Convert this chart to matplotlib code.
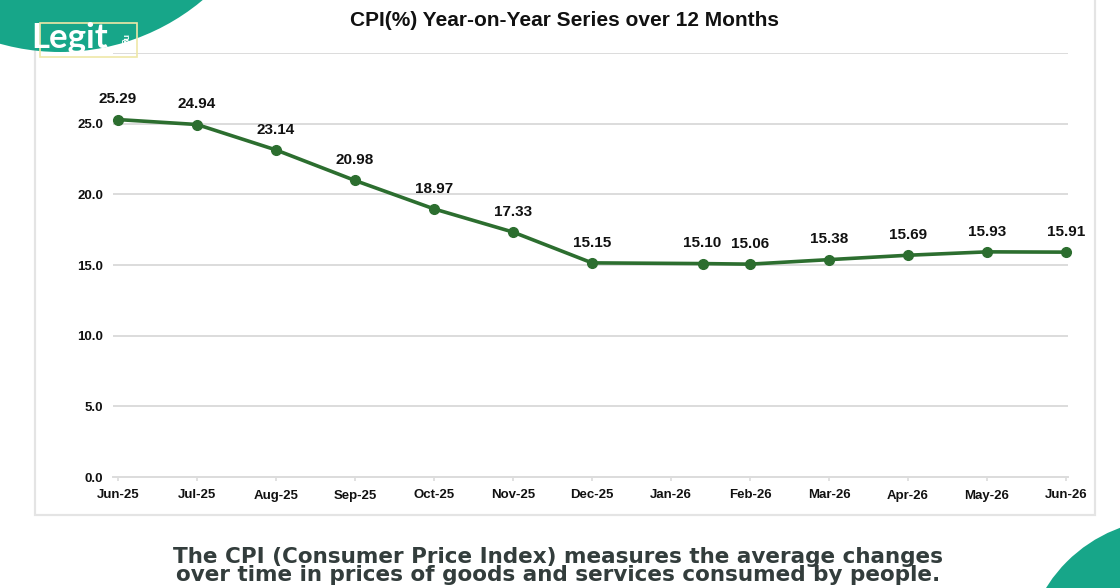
import matplotlib
matplotlib.use("Agg")
import matplotlib.pyplot as plt
from matplotlib.patches import Circle, Rectangle

# ---------------- data ----------------
months = ["Jun-25", "Jul-25", "Aug-25", "Sep-25", "Oct-25", "Nov-25", "Dec-25",
          "Jan-26", "Feb-26", "Mar-26", "Apr-26", "May-26", "Jun-26"]
# month position of each observation (Jan-26 point sits between Jan and Feb in the source)
obs_month = [0, 1, 2, 3, 4, 5, 6, 7.4, 8, 9, 10, 11, 12]
cpi_yoy = [25.29, 24.94, 23.14, 20.98, 18.97, 17.33, 15.15,
           15.10, 15.06, 15.38, 15.69, 15.93, 15.91]
y_ticks = [0, 5, 10, 15, 20, 25, 30]
y_labels = ["0.0", "5.0", "10.0", "15.0", "20.0", "25.0", ""]

title = "CPI(%) Year-on-Year Series over 12 Months"
caption = ("The CPI (Consumer Price Index) measures the average changes\n"
           "over time in prices of goods and services consumed by people.")

# ---------------- style ----------------
W, H = 1120, 588
GREEN = "#2c6e2f"
TEAL = "#17a689"
GRID = "#dcdcdc"
FONT = ["Liberation Sans", "DejaVu Sans"]

fig = plt.figure(figsize=(W / 100, H / 100), dpi=100)
fig.patch.set_facecolor("white")


def fx(px):
    return px / W


def fy(py):
    return 1 - py / H


# background overlay (pixel coordinates) for chart frame
bg = fig.add_axes([0, 0, 1, 1], zorder=-1)
bg.set_xlim(0, W)
bg.set_ylim(H, 0)
bg.axis("off")
bg.add_patch(Rectangle((35, -20), 1060, 535, facecolor="white",
                       edgecolor="#e4e4e4", lw=1.6))

# main axes
ax = fig.add_axes([fx(113), fy(477), fx(1068) - fx(113), fy(53) - fy(477)])
ax.set_facecolor("none")
x_ticks = list(range(len(months)))
ax.set_xlim(-0.063, 12.025)
ax.set_ylim(0, 30)
ax.set_yticks(y_ticks)
ax.set_yticklabels(y_labels)
ax.set_xticks(x_ticks)
ax.set_xticklabels(months)
ax.grid(axis="y", color=GRID, lw=1.4)
ax.set_axisbelow(True)
for s in ["top", "right", "left"]:
    ax.spines[s].set_visible(False)
ax.spines["bottom"].set_color(GRID)
ax.spines["bottom"].set_linewidth(1.4)
ax.tick_params(axis="y", length=0, pad=7, labelsize=9.5)
ax.tick_params(axis="x", length=3, color=GRID, width=1.2, pad=6, labelsize=9.5)
for lab in ax.get_xticklabels() + ax.get_yticklabels():
    lab.set_family(FONT)
    lab.set_fontweight("bold")
    lab.set_color("#111111")

ax.plot(obs_month, cpi_yoy, color=GREEN, lw=2.6, marker="o", ms=7,
        mfc=GREEN, mec=GREEN, clip_on=False, zorder=3)
for xv, yv in zip(obs_month, cpi_yoy):
    ax.annotate(f"{yv:.2f}", (xv, yv), xytext=(0, 14.5), textcoords="offset points",
                ha="center", va="center", fontsize=11, fontweight="bold",
                family=FONT, color="#111111")

# foreground overlay: title, caption, decorations, logo
fg = fig.add_axes([0, 0, 1, 1], zorder=10)
fg.set_xlim(0, W)
fg.set_ylim(H, 0)
fg.axis("off")
fg.patch.set_alpha(0)

fg.text(565, 20, title, ha="center", va="center", fontsize=15,
        fontweight="bold", family=FONT, color="#111111")
fg.text(558, 566, caption, ha="center", va="center", fontsize=15.5,
        fontweight="bold", family=["DejaVu Sans"], color="#333d3c",
        linespacing=0.92)

fg.add_patch(Circle((60, -170), 222, color=TEAL, lw=0))
fg.add_patch(Circle((1170, 665), 146, color=TEAL, lw=0))

# logo
fg.add_patch(Rectangle((40, 23), 97, 34, facecolor="none",
                       edgecolor="#efe7a8", lw=1.2))
fg.text(31, 48, "Legit", ha="left", va="baseline", fontsize=25,
        fontweight="bold", family=["Lato", "DejaVu Sans"], color="white")
fg.text(125, 39, "ng", ha="center", va="center", fontsize=7,
        fontweight="bold", family=["Lato", "DejaVu Sans"], color="white",
        rotation=-90)

fig.savefig("out.png", dpi=100)
